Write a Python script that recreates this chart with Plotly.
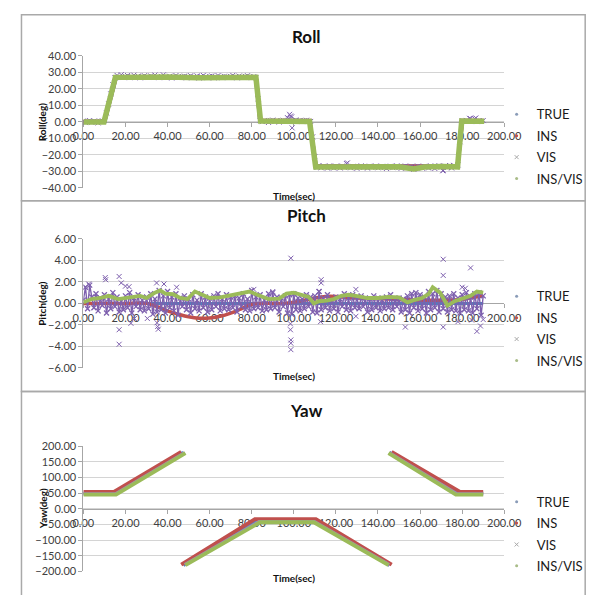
import plotly.graph_objects as go

W, H = 607, 595

# ---------------- data ----------------
SERIES = ["TRUE", "INS", "VIS", "INS/VIS"]
X_TICKS = [0, 20, 40, 60, 80, 100, 120, 140, 160, 180, 200]

# Roll (deg)
ROLL_T = [0, 10, 15.5, 82, 84, 107.5, 110.5, 177.8, 180, 190]
ROLL_TRUE = [0, 0, 27, 27, 0.5, 0.5, -27, -27, 0.5, 0.5]
ROLL_INS = [0.2, 0.2, 27.2, 27.2, 0.7, 0.7, -26.8, -26.8, 0.7, 0.7]
ROLL_INSVIS_T = [0, 9.8, 15.2, 25, 40, 55, 65, 75, 82, 84.2, 95, 106, 107.5, 110.4,
                 125, 140, 150, 157, 162, 170, 177.8, 179.8, 185, 190.5]
ROLL_INSVIS = [0, 0, 27, 27.3, 27.2, 26.7, 27.1, 27.3, 27, 0.6, 0.8, 0.6, 0.3, -27.3,
               -27.2, -27, -27.2, -28.5, -27.3, -27, -27.2, 0.6, 0.5, 0.4]
VIS_T = list(range(191))
ROLL_VIS = [
    0.6, -0.4, 0.3, 0.8, -0.2, 0.5, 0.1, -0.6, 0.4, 0.7,
    0.9, 5.5, 11.0, 17.0, 22.5, 26.8, 28.2, 27.1, 28.6, 26.9,
    27.6, 28.1, 26.8, 27.4, 28.3, 27.0, 27.8, 26.7, 27.5, 28.0,
    27.2, 26.9, 27.9, 27.3, 28.4, 27.1, 26.8, 27.6, 28.5, 27.2,
    27.0, 27.7, 26.6, 27.4, 28.1, 27.3, 26.9, 27.5, 27.8, 26.7,
    27.4, 28.0, 26.9, 27.2, 27.9, 26.6, 27.5, 28.2, 27.1, 26.8,
    27.6, 27.9, 26.7, 27.3, 28.1, 27.0, 26.8, 27.7, 27.4, 26.9,
    27.5, 28.2, 27.1, 26.7, 27.8, 27.3, 26.9, 27.6, 28.0, 27.2,
    26.8, 27.5, 26.9, 14.0, 0.8, 0.2, 0.9, 0.4, -0.3, 0.7,
    1.1, 0.3, 0.8, -0.1, 0.6, 1.0, 0.4, 2.6, 4.6, 3.1,
    0.6, 1.2, 0.5, 0.9, 0.2, 0.7, 1.0, 0.4, 0.3, -9.0,
    -21.0, -27.6, -26.4, -27.8, -26.9, -27.3, -28.0, -26.6, -27.4, -27.9,
    -26.8, -27.2, -27.9, -26.7, -27.5, -25.2, -27.1, -27.8, -26.9, -27.4,
    -28.1, -27.0, -26.6, -27.6, -27.3, -28.0, -26.8, -27.5, -27.1, -26.7,
    -27.8, -27.2, -26.9, -27.6, -28.2, -27.0, -26.8, -27.7, -27.3, -26.6,
    -27.5, -28.1, -27.0, -26.7, -27.8, -27.4, -26.9, -28.7, -27.2, -26.8,
    -27.6, -28.0, -26.9, -27.3, -27.9, -26.6, -27.5, -28.2, -27.1, -26.5,
    -27.4, -29.3, -26.8, -27.6, -26.4, -27.9, -26.3, -27.2, -26.0, -12.0,
    0.8, 0.3, 0.9, 0.5, 2.0, 0.6, 1.9, 0.2, 0.7, 0.4,
    0.8,
]
ROLL_VIS_OUT_T = [97.6, 98.5, 99.2, 125.5, 170.8, 183.5, 186.5]
ROLL_VIS_OUT = [1.8, 3.6, -3.6, -24.8, -29.6, 2.2, 2.4]

# Pitch (deg)
PITCH_TRUE_T = [0, 50, 100, 150, 190]
PITCH_TRUE = [0, 0, 0, 0, 0]
PITCH_INS_T = [0, 10, 20, 30, 35, 40, 45, 50, 55, 60, 65, 70, 75, 80, 85, 90, 95, 100,
               105, 110, 115, 120, 125, 130, 140, 150, 160, 170, 180, 185, 190]
PITCH_INS = [0, 0, 0, 0, -0.3, -0.7, -1.0, -1.25, -1.38, -1.35, -1.2, -0.9, -0.5, -0.1,
             0, 0, 0, 0.1, 0.3, 0.5, 0.65, 0.65, 0.55, 0.5, 0.45, 0.35, 0.3, 0.3, 0.35,
             0.55, 0.7]
PITCH_INSVIS_T = [0, 4, 8, 12, 16.5, 20, 23.5, 27, 30, 34, 36.5, 39, 42.6, 46, 49.5, 53,
                  56.5, 60, 65, 68.7, 72, 75.6, 79, 82.6, 88, 93, 96.5, 100, 103.5, 107,
                  109.5, 112, 115.6, 119, 122.6, 126, 129.5, 135, 140, 145, 150, 154,
                  157, 161, 164, 166, 169.5, 173, 176.5, 180, 184, 187, 190]
PITCH_INSVIS = [0.1, 0.4, 0.5, 0.7, 0.4, 0.5, 0.55, 0.7, 0.5, 1.0, 1.2, 0.9, 0.85, 0.5,
                0.4, 1.1, 0.8, 0.5, 0.55, 0.7, 0.85, 1.0, 1.1, 0.8, 0.4, 0.45, 0.9, 1.0,
                0.8, 0.6, 0.0, 0.2, 0.25, 0.4, 0.7, 0.8, 0.7, 0.5, 0.5, 0.6, 0.55, 0.1,
                0.3, 0.5, 0.85, 1.5, 1.0, -0.2, 0.2, 0.4, 0.7, 1.1, 1.0]
PITCH_VIS = [
    0.3, 1.5, -0.5, 1.7, 0.6, -0.4, 0.9, -0.7, 0.5, -0.2,
    0.8, -0.9, 0.4, -0.5, 1.0, -0.3, 0.6, -0.8, 0.2, -0.6,
    0.7, -0.4, 1.0, -0.9, 0.5, -0.3, 0.8, -0.6, 0.3, -0.7,
    0.6, -0.5, 0.9, -1.0, 0.4, -0.8, 1.2, -0.6, 0.7, -0.9,
    1.1, -0.4, 0.6, -0.7, 0.9, -1.1, 0.5, -0.3, 0.7, -0.6,
    0.4, -0.9, 0.8, -0.5, 0.3, -0.7, 0.9, -0.4, 0.6, -0.8,
    0.5, -0.6, 0.7, -0.3, 0.9, -0.7, 0.4, -0.5, 0.8, -0.6,
    0.6, -0.4, 0.7, -0.8, 0.5, -0.3, 0.9, -0.6, 0.4, -0.7,
    1.2, -0.5, 0.6, -0.4, 0.8, -0.7, 0.3, -0.6, 0.9, -0.5,
    1.0, -0.4, 0.6, -0.8, 0.5, -0.3, 0.7, -0.9, 0.8, -1.0,
    0.9, -0.6, 0.5, -0.7, 0.4, -0.5, 0.8, -0.3, 0.6, -0.8,
    0.7, -0.9, 1.1, -0.6, 0.5, -0.4, 0.8, -0.7, 0.3, -0.5,
    0.6, -0.8, 0.4, -0.3, 0.9, -0.6, 0.5, -0.7, 0.8, -0.4,
    0.6, -0.5, 0.7, -0.3, 0.5, -0.8, 0.4, -0.6, 0.7, -0.4,
    0.5, -0.7, 0.3, -0.5, 0.6, -0.4, 0.8, -0.6, 0.4, -0.3,
    0.5, -0.8, 0.4, -0.6, 0.7, -0.9, 0.9, -0.4, 1.0, -0.7,
    0.8, -0.5, 0.6, -0.9, 1.1, -0.6, 0.9, -0.4, 1.2, -0.8,
    0.9, -0.5, 0.6, -0.8, 0.7, -0.6, 0.9, -0.7, 0.5, -0.9,
    0.8, -0.6, 1.0, -0.7, 0.6, -0.9, 0.9, -0.5, 1.0, -1.1,
    0.7,
]
PITCH_VIS_OUT_T = [2.5, 10.4, 10.6, 17, 17, 17, 18, 20, 21.7, 22.6, 24.3, 30.4, 34.8, 35,
                   35.3, 35.6, 38.3, 44.3, 81, 90, 98.6, 98.4, 98.4, 98.6, 98.6, 98.6,
                   112, 113, 113, 112.7, 129.5, 129.5, 153, 171, 171, 171, 178, 180,
                   181.5, 184, 184.5, 187, 188.7, 190]
PITCH_VIS_OUT = [1.8, 2.4, 2.2, 2.5, -2.45, -3.8, 1.9, 1.6, 1.55, -1.85, -1.4, -1.4, 1.9,
                 -1.8, -2.15, -2.4, 1.8, 1.5, 1.3, 1.1, 4.2, -1.9, -2.45, -3.4, -3.7, -4.3,
                 1.1, 2.2, 1.9, -1.7, 1.3, -1.2, -2.2, 4.1, 2.6, -2.2, -1.7, 1.5, 1.4,
                 3.3, -1.55, -2.6, -2.1, -1.5]

# Yaw (deg) -- None marks the +-180 wrap
YAW_TRUE_T = [0, 15, 47.5, None, 47.5, 83, 110, 145.5, None, 145.5, 178, 190]
YAW_TRUE = [50, 50, 180, None, -180, -38, -38, -180, None, 180, 50, 50]
YAW_INS_T = [0, 14.5, 46.5, None, 46.5, 81.5, 110.5, 146.5, None, 146.5, 179, 190]
YAW_INS = [54, 54, 182, None, -178, -33, -33, -178, None, 182, 54, 54]
YAW_VIS_T = [0, 15.3, 48.2, None, 48.2, 83.5, 109.8, 145.3, None, 145.3, 177.5, 190]
YAW_VIS = [47, 47, 179, None, -179, -41, -41, -179, None, 179, 47, 47]
YAW_INSVIS_T = [0, 15.5, 48.5, None, 48.5, 84, 109.5, 145, None, 145, 177, 190]
YAW_INSVIS = [45, 45, 178, None, -180, -43, -43, -180, None, 178, 45, 45]

# ---------------- style ----------------
C_TRUE = "#4F81BD"
C_INS = "#C0504D"
C_VIS = "#7E60AE"
C_INSVIS = "#9BBB59"
FONT = "Lato"
TXT = "#404040"
GRID = "#D4D4D4"
AX = "#A6A6A6"


def px_x(p):
    return p / W


def px_y(p):
    return 1 - p / H


XDOM = [px_x(76), px_x(518)]
PANELS = [
    dict(name="Roll", ytitle="Roll(deg)", yrng=[-40, 40], dt=10, top=50, bot=185,
         title_y=30, xt_y=193, box=(8, 198), leg_y=143),
    dict(name="Pitch", ytitle="Pitch(deg)", yrng=[-6, 6], dt=2, top=237, bot=369,
         title_y=213, xt_y=377, box=(198, 393), leg_y=329),
    dict(name="Yaw", ytitle="Yaw(deg)", yrng=[-200, 200], dt=50, top=449, bot=577,
         title_y=413, xt_y=584, box=(393, 620), leg_y=539),
]

fig = go.Figure()


def add(i, x, y, color, mode="lines", width=3, msize=5, symbol="circle", shape="linear",
        mline=1):
    sfx = "" if i == 0 else str(i + 1)
    tr = dict(x=x, y=y, mode=mode, xaxis="x" + sfx, yaxis="y" + sfx,
              showlegend=False, hoverinfo="skip")
    if "lines" in mode:
        tr["line"] = dict(color=color, width=width, shape=shape)
    if "markers" in mode:
        tr["marker"] = dict(color=color, size=msize, symbol=symbol,
                            line=dict(color=color, width=mline))
    fig.add_trace(go.Scatter(**tr))


# Roll
add(0, ROLL_T, ROLL_TRUE, C_TRUE, width=4)
add(0, ROLL_T, ROLL_INS, C_INS, width=4)
add(0, VIS_T, ROLL_VIS, C_VIS, mode="markers", msize=5, symbol="x-thin")
add(0, ROLL_VIS_OUT_T, ROLL_VIS_OUT, C_VIS, mode="markers", msize=5, symbol="x-thin")
add(0, ROLL_INSVIS_T, ROLL_INSVIS, C_INSVIS, width=5.5)

# Pitch
add(1, PITCH_TRUE_T, PITCH_TRUE, C_TRUE, width=3)
add(1, PITCH_INS_T, PITCH_INS, C_INS, width=3.5, shape="spline")
add(1, VIS_T, PITCH_VIS, C_VIS, mode="lines+markers", width=1.4, msize=5,
    symbol="x-thin", mline=1.3)
add(1, PITCH_VIS_OUT_T, PITCH_VIS_OUT, C_VIS, mode="markers", msize=5, symbol="x-thin")
add(1, PITCH_INSVIS_T, PITCH_INSVIS, C_INSVIS, width=3.8)

# Yaw
add(2, YAW_TRUE_T, YAW_TRUE, C_TRUE, width=3.5)
add(2, YAW_INS_T, YAW_INS, C_INS, width=3.8)
add(2, YAW_VIS_T, YAW_VIS, "#9C8FB0", width=3.5)
add(2, YAW_INSVIS_T, YAW_INSVIS, C_INSVIS, width=3.8)

# legend-only entries
LEG_STYLE = [
    dict(color="#8A9CB8", symbol="circle", size=3),
    dict(color=C_INS, symbol="circle", size=3),
    dict(color="#A8A8A8", symbol="x-thin", size=4),
    dict(color="#A9BC88", symbol="circle", size=3),
]
for i in range(3):
    sfx = "" if i == 0 else str(i + 1)
    for k, name in enumerate(SERIES):
        st = LEG_STYLE[k]
        fig.add_trace(go.Scatter(
            x=[None], y=[None], mode="markers", name=name,
            xaxis="x" + sfx, yaxis="y" + sfx,
            legend="legend" + sfx, legendgroup=f"{i}-{k}",
            marker=dict(color=st["color"], symbol=st["symbol"], size=st["size"],
                        line=dict(color=st["color"],
                                  width=1 if st["symbol"] == "x-thin" else 0)),
        ))

layout = dict(
    width=W, height=H, margin=dict(l=0, r=0, t=0, b=0),
    paper_bgcolor="white", plot_bgcolor="white",
    font=dict(family=FONT, color=TXT, size=11),
    shapes=[], annotations=[],
)

for i, p in enumerate(PANELS):
    sfx = "" if i == 0 else str(i + 1)
    ydom = [px_y(p["bot"]), px_y(p["top"])]
    layout["yaxis" + sfx] = dict(
        domain=ydom, range=p["yrng"], dtick=p["dt"], tickformat=".2f",
        showgrid=True, gridcolor=GRID, gridwidth=1, zeroline=False,
        showline=True, linecolor=AX, linewidth=1, ticks="outside", ticklen=4,
        tickcolor=AX, tickfont=dict(family=FONT, size=11, color=TXT),
        anchor="x" + sfx, fixedrange=True,
    )
    layout["xaxis" + sfx] = dict(
        domain=XDOM, range=[0, 200], tickvals=X_TICKS, tickformat=".2f",
        showgrid=False, zeroline=False, showline=True, linecolor=AX, linewidth=1,
        ticks="outside", ticklen=4, tickcolor=AX,
        tickfont=dict(family=FONT, size=11, color=TXT),
        anchor="free", position=(ydom[0] + ydom[1]) / 2, layer="below traces",
        fixedrange=True,
    )
    layout["legend" + sfx] = dict(
        x=px_x(510), xanchor="left", y=px_y(p["leg_y"]), yanchor="middle",
        font=dict(family=FONT, size=13, color="#1a1a1a"), bgcolor="rgba(0,0,0,0)",
        tracegroupgap=1.5, itemclick=False, itemdoubleclick=False,
    )
    # panel frame
    layout["shapes"].append(dict(
        type="rect", xref="paper", yref="paper",
        x0=px_x(11), x1=px_x(603), y0=px_y(p["box"][1]), y1=px_y(p["box"][0]),
        line=dict(color="#A9A9A9", width=1.5), layer="below",
    ))
    # titles
    layout["annotations"].append(dict(
        text="<b>" + p["name"] + "</b>", x=px_x(310), y=px_y(p["title_y"]),
        xref="paper", yref="paper", showarrow=False, xanchor="center", yanchor="middle",
        font=dict(family=FONT, size=17, color="#111111"),
    ))
    layout["annotations"].append(dict(
        text="<b>Time(sec)</b>", x=(XDOM[0] + XDOM[1]) / 2, y=px_y(p["xt_y"]),
        xref="paper", yref="paper", showarrow=False, xanchor="center", yanchor="middle",
        font=dict(family=FONT, size=10, color="#111111"),
    ))
    layout["annotations"].append(dict(
        text="<b>" + p["ytitle"] + "</b>", x=px_x(33), y=(ydom[0] + ydom[1]) / 2,
        xref="paper", yref="paper", showarrow=False, xanchor="center", yanchor="middle",
        textangle=-90, font=dict(family=FONT, size=10, color="#111111"),
    ))

fig.update_layout(**layout)
fig.write_html(
    "out.html",
    config={"displayModeBar": False},
    post_script="document.body.style.margin='0px';document.body.style.overflow='hidden';",
)
